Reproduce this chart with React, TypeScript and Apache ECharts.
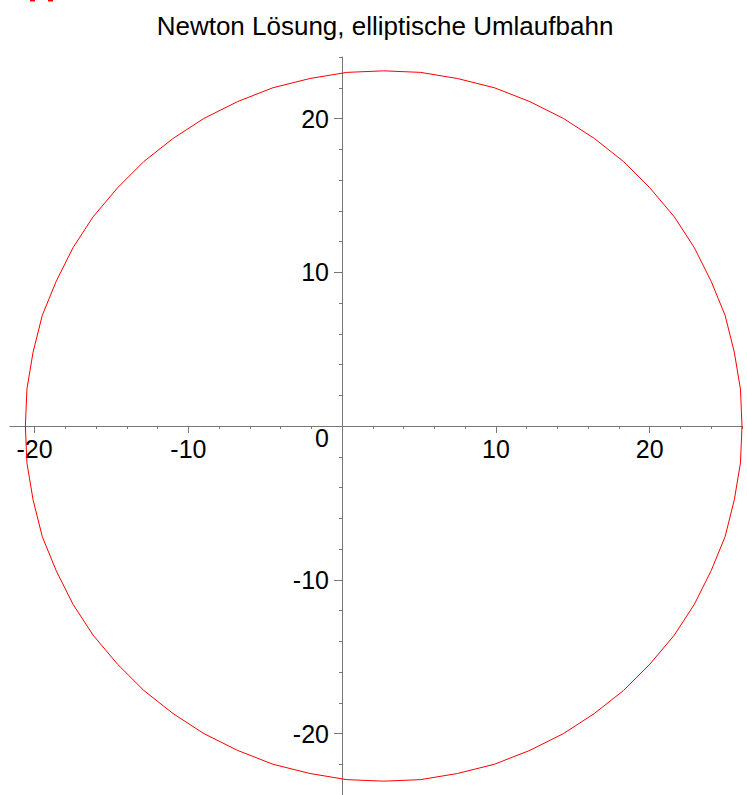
import React, { useEffect, useRef } from "react";
import * as echarts from "echarts";

const titleText = "Newton Lösung, elliptische Umlaufbahn";

// Orbit points (x, y)
const orbitX = [
  26.0, 25.9, 25.5, 24.9, 24.0, 22.9, 21.6, 20.0, 18.3, 16.4, 14.4, 12.2, 9.9, 7.5, 5.1, 2.7, 0.3, -2.1, -4.5, -6.8,
  -9.0, -11.0, -12.9, -14.6, -16.2, -17.5, -18.6, -19.5, -20.1, -20.5, -20.6,
  -20.5, -20.1, -19.5, -18.6, -17.5, -16.2, -14.6, -12.9, -11.0, -9.0, -6.8, -4.5, -2.1, 0.3, 2.7, 5.1, 7.5, 9.9,
  12.2, 14.4, 16.4, 18.3, 20.0, 21.6, 22.9, 24.0, 24.9, 25.5, 25.9, 26.0,
];
const orbitY = [
  0, 2.4, 4.8, 7.2, 9.4, 11.6, 13.6, 15.5, 17.2, 18.7, 20.0, 21.1, 22.0, 22.6, 23.0, 23.1, 23.0, 22.6, 22.0, 21.1,
  20.0, 18.7, 17.2, 15.5, 13.6, 11.6, 9.4, 7.2, 4.8, 2.4, 0,
  -2.4, -4.8, -7.2, -9.4, -11.6, -13.6, -15.5, -17.2, -18.7, -20.0, -21.1, -22.0, -22.6, -23.0, -23.1, -23.0, -22.6,
  -22.0, -21.1, -20.0, -18.7, -17.2, -15.5, -13.6, -11.6, -9.4, -7.2, -4.8, -2.4, 0,
];

const majorTicks = [-20, -10, 10, 20];
const majorLabels = [-20, -10, 10, 20];
const minorTicksX = [-20, -18, -16, -14, -12, -10, -8, -6, -4, -2, 2, 4, 6, 8, 10, 12, 14, 16, 18, 20, 22, 24, 26];
const minorTicksY = [-24, -22, -20, -18, -16, -14, -12, -10, -8, -6, -4, -2, 2, 4, 6, 8, 10, 12, 14, 16, 18, 20, 22, 24];

const X_MIN = -21.6;
const X_MAX = 26.0;
const Y_MIN = -24;
const Y_MAX = 24;

const AXIS_COLOR = "#777777";
const FONT = "'Liberation Sans', Arial, sans-serif";
const LABEL_SIZE = 25;

export default function App() {
  const ref = useRef<HTMLDivElement>(null);
  useEffect(() => {
    document.body.style.margin = "0";
    if (!ref.current) return;
    const chart = echarts.init(ref.current, undefined, { renderer: "svg" });
    const base = { containLabel: false, outerBoundsMode: "none" };
    // main plot area
    const gMain = { ...base, left: 10, top: 57, width: 732, height: 738 };
    // upper half: bottom edge on y = 0 (carries the x axis)
    const gX = { ...base, left: 10, top: 57, width: 732, height: 369 };
    // right part: left edge on x = 0 (carries the y axis)
    const gY = { ...base, left: 342, top: 57, width: 400, height: 738 };
    const data = orbitX.map((x, i) => [x, orbitY[i]]);
    const hidden = { show: false, splitLine: { show: false } };
    chart.setOption({
      animation: false,
      backgroundColor: "#ffffff",
      title: {
        text: titleText,
        left: 380,
        top: 8,
        textAlign: "center",
        textStyle: { fontFamily: FONT, fontSize: 26, fontWeight: "normal", color: "#000" },
      },
      grid: [gMain, gX, gX, gY, gY],
      xAxis: [
        { type: "value", gridIndex: 0, min: X_MIN, max: X_MAX, ...hidden },
        {
          type: "value",
          gridIndex: 1,
          min: X_MIN,
          max: X_MAX,
          position: "bottom",
          axisLine: { show: true, onZero: false, lineStyle: { color: AXIS_COLOR, width: 1 } },
          axisTick: { show: true, length: 7, customValues: majorTicks, lineStyle: { color: AXIS_COLOR } },
          axisLabel: {
            show: true,
            customValues: majorLabels,
            margin: 10,
            fontFamily: FONT,
            fontSize: LABEL_SIZE,
            color: "#000",
          },
          splitLine: { show: false },
        },
        {
          type: "value",
          gridIndex: 2,
          min: X_MIN,
          max: X_MAX,
          position: "bottom",
          axisLine: { show: false, onZero: false },
          axisTick: { show: true, length: 3, customValues: minorTicksX, lineStyle: { color: AXIS_COLOR } },
          axisLabel: { show: false },
          splitLine: { show: false },
        },
        { type: "value", gridIndex: 3, min: 0, max: 26, ...hidden },
        { type: "value", gridIndex: 4, min: 0, max: 26, ...hidden },
      ],
      yAxis: [
        { type: "value", gridIndex: 0, min: Y_MIN, max: Y_MAX, ...hidden },
        { type: "value", gridIndex: 1, min: 0, max: Y_MAX, ...hidden },
        { type: "value", gridIndex: 2, min: 0, max: Y_MAX, ...hidden },
        {
          type: "value",
          gridIndex: 3,
          min: Y_MIN,
          max: Y_MAX,
          position: "left",
          axisLine: { show: true, onZero: false, lineStyle: { color: AXIS_COLOR, width: 1 } },
          axisTick: { show: true, length: 8, customValues: majorTicks, lineStyle: { color: AXIS_COLOR } },
          axisLabel: {
            show: true,
            customValues: majorLabels,
            margin: 13,
            fontFamily: FONT,
            fontSize: LABEL_SIZE,
            color: "#000",
          },
          splitLine: { show: false },
        },
        {
          type: "value",
          gridIndex: 4,
          min: Y_MIN,
          max: Y_MAX,
          position: "left",
          axisLine: { show: false, onZero: false },
          axisTick: { show: true, length: 3, customValues: minorTicksY, lineStyle: { color: AXIS_COLOR } },
          axisLabel: { show: false },
          splitLine: { show: false },
        },
      ],
      graphic: [
        {
          type: "text",
          x: 322,
          y: 438,
          style: {
            text: "0",
            fontFamily: FONT,
            fontSize: LABEL_SIZE,
            fill: "#000",
            align: "center",
            verticalAlign: "middle",
          },
        },
        { type: "rect", shape: { x: 30, y: 0, width: 5, height: 1.5 }, style: { fill: "#ff0000" } },
        { type: "rect", shape: { x: 48, y: 0, width: 5, height: 1.5 }, style: { fill: "#ff0000" } },
      ],
      series: [
        {
          type: "line",
          xAxisIndex: 0,
          yAxisIndex: 0,
          data,
          showSymbol: false,
          symbol: "none",
          smooth: false,
          clip: false,
          lineStyle: { color: "#ff0000", width: 1 },
        },
      ],
    });
    return () => chart.dispose();
  }, []);
  return <div ref={ref} style={{ width: 747, height: 795 }} />;
}
